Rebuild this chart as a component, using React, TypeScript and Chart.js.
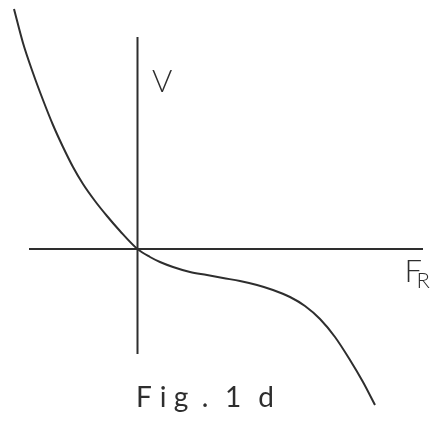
import React, { useEffect, useRef } from "react";
import { Chart, registerables } from "chart.js";

Chart.register(...registerables);

// Velocity V as a function of the force F_R (arbitrary units)
const fr = [
  -12.35, -11.45, -10.45, -9.45, -8.45, -7.45, -6.45, -5.45, -4.25, -3.05,
  -1.75, 0, 1.25, 2.25, 3.55, 5.25, 6.95, 8.55, 10.25, 11.95, 13.55, 15.25,
  16.75, 18.25, 19.75, 21.25, 22.55, 23.75,
];
const v = [
  24.0, 20.6, 17.6, 14.9, 12.4, 10.2, 8.2, 6.5, 4.8, 3.3, 1.8, 0, -0.8, -1.3,
  -1.8, -2.3, -2.6, -2.9, -3.2, -3.6, -4.1, -4.8, -5.7, -7.0, -8.8, -11.1,
  -13.3, -15.6,
];

// Extents of the drawn coordinate axes
const frAxisRange = [-10.85, 28.55];
const vAxisRange = [21.2, -10.5];

const axisLabelV = "V";
const axisLabelF = "F";
const axisLabelSub = "R";
const caption = "Fig. 1d";
// Plotter-style spacing of the caption letters (centres, in F_R units)
const captionCentres = [0.65, 2.55, 4.35, 6.75, 8.2, 9.55, 12.85];

const INK = "#2e2e2e";
const FONT = "Lato, 'DejaVu Sans', sans-serif";

const labelsPlugin = {
  id: "figureLabels",
  afterDraw(chart: any) {
    const { ctx, scales } = chart;
    const x = scales.x;
    const y = scales.y;
    ctx.save();
    ctx.fillStyle = INK;
    ctx.textBaseline = "alphabetic";
    ctx.textAlign = "left";

    ctx.font = `300 31px ${FONT}`;
    ctx.fillText(axisLabelV, x.getPixelForValue(1.45), y.getPixelForValue(15.7));

    ctx.font = `300 31px ${FONT}`;
    ctx.fillText(axisLabelF, x.getPixelForValue(26.7), y.getPixelForValue(-3.3));
    ctx.font = `300 22px ${FONT}`;
    ctx.fillText(axisLabelSub, x.getPixelForValue(27.9), y.getPixelForValue(-3.85));

    ctx.font = `400 28px ${FONT}`;
    ctx.textAlign = "center";
    const base = y.getPixelForValue(-15.8);
    Array.from(caption).forEach((ch, i) => {
      if (ch.trim()) ctx.fillText(ch, x.getPixelForValue(captionCentres[i]), base);
    });
    ctx.restore();
  },
};

export default function App() {
  const canvasRef = useRef<HTMLCanvasElement | null>(null);

  useEffect(() => {
    if (!canvasRef.current) return;
    const curve = fr.map((f, i) => ({ x: f, y: v[i] }));
    const chart = new Chart(canvasRef.current, {
      type: "scatter",
      data: {
        datasets: [
          {
            data: [
              { x: frAxisRange[0], y: 0 },
              { x: frAxisRange[1], y: 0 },
            ],
            showLine: true,
            borderColor: INK,
            borderWidth: 2,
            pointRadius: 0,
          },
          {
            data: [
              { x: 0, y: vAxisRange[0] },
              { x: 0, y: vAxisRange[1] },
            ],
            showLine: true,
            borderColor: INK,
            borderWidth: 2,
            pointRadius: 0,
          },
          {
            data: curve,
            showLine: true,
            borderColor: INK,
            borderWidth: 2,
            pointRadius: 0,
            cubicInterpolationMode: "monotone",
          },
        ],
      },
      options: {
        responsive: false,
        animation: false,
        layout: { padding: 0 },
        plugins: {
          legend: { display: false },
          tooltip: { enabled: false },
        },
        scales: {
          x: { type: "linear", min: -13.75, max: 29.85, display: false },
          y: { type: "linear", min: -17.2, max: 24.9, display: false },
        },
      },
      plugins: [labelsPlugin],
    });
    return () => chart.destroy();
  }, []);

  return (
    <div
      style={{
        position: "fixed",
        left: 0,
        top: 0,
        width: 436,
        height: 421,
        background: "#fff",
      }}
    >
      <canvas ref={canvasRef} width={436} height={421} />
    </div>
  );
}
